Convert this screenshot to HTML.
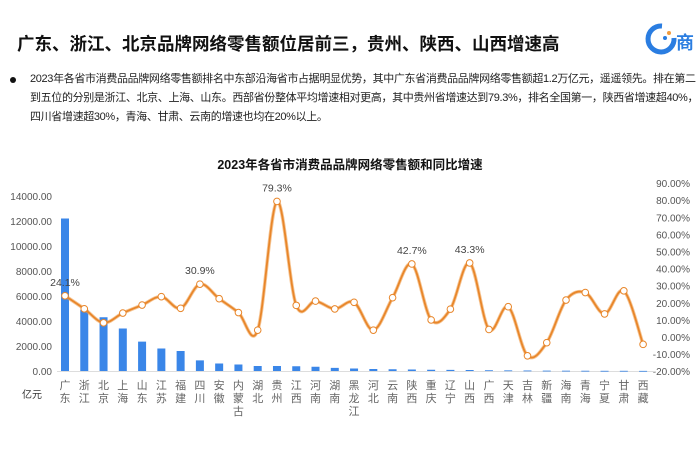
<!DOCTYPE html><html><head><meta charset="utf-8"><style>
body{margin:0;width:700px;height:470px;background:#fff;font-family:"Liberation Sans","Noto Sans CJK SC",sans-serif;overflow:hidden;position:relative}
.h{position:absolute;left:17px;top:31px;font-size:17.5px;font-weight:bold;color:#111}
.p{position:absolute;left:30px;top:70px;width:672px;font-size:11px;line-height:19px;color:#222;letter-spacing:-0.35px}
.dot{position:absolute;left:10px;top:77px;width:6px;height:6px;border-radius:50%;background:#111}
</style></head><body>
<div class="h">广东、浙江、北京品牌网络零售额位居前三，贵州、陕西、山西增速高</div>
<svg style="position:absolute;left:640px;top:18px" width="60" height="45"><path d="M22 8 A13 13 0 1 0 34 20" stroke="#2a7de1" stroke-width="5" fill="none"/><circle cx="25" cy="20" r="2" fill="#2a7de1"/><circle cx="29" cy="15" r="2" fill="#f39c3c"/><text x="36" y="31" font-size="18" font-weight="bold" fill="#2a7de1" font-family="Noto Sans CJK SC">商</text></svg>
<div class="dot"></div>
<div class="p">2023年各省市消费品品牌网络零售额排名中东部沿海省市占据明显优势，其中广东省消费品品牌网络零售额超1.2万亿元，遥遥领先。排在第二<br>到五位的分别是浙江、北京、上海、山东。西部省份整体平均增速相对更高，其中贵州省增速达到79.3%，排名全国第一，陕西省增速超40%，<br>四川省增速超30%，青海、甘肃、云南的增速也均在20%以上。</div>
<svg id="c" style="position:absolute;left:0;top:0" width="700" height="470" font-family="Liberation Sans, Noto Sans CJK SC, sans-serif"></svg>
<script>
var s=document.getElementById('c'),h='';
var names=["广东","浙江","北京","上海","山东","江苏","福建","四川","安徽","内蒙古","湖北","贵州","江西","河南","湖南","黑龙江","河北","云南","陕西","重庆","辽宁","山西","广西","天津","吉林","新疆","海南","青海","宁夏","甘肃","西藏"];
var bars=[12200,4900,4300,3400,2350,1800,1600,850,600,520,400,400,380,340,250,200,160,140,120,100,90,80,60,50,40,30,25,20,15,15,10];
var g=[24.1,16.5,8.3,14,18.7,23.6,16.8,30.9,22.4,14.3,4,79.3,18.5,21,16.4,20.3,4,23,42.7,10,16.3,43.3,4.4,17.7,-11,-3.3,21.6,26,13.5,27,-4.3];
function X(i){return 65+i*19.27}
function YL(v){return 371-v*0.0125}
function YR(v){return 337-v*1.71}
h+='<text x="350" y="169" text-anchor="middle" font-size="12.5" font-weight="bold" fill="#111">2023年各省市消费品品牌网络零售额和同比增速</text>';
for(var k=0;k<=7;k++){h+='<text x="52" y="'+(YL(k*2000)+4)+'" text-anchor="end" font-size="10" fill="#555">'+(k==0?'0':k*2000)+'.00</text>';}
for(var k=-2;k<=9;k++){h+='<text x="690" y="'+(YR(k*10)+4)+'" text-anchor="end" font-size="10" fill="#555">'+(k*10)+'.00%</text>';}
h+='<line x1="57" y1="371.5" x2="655" y2="371.5" stroke="#ddd"/>';
h+='<text x="22" y="398" font-size="10" fill="#333">亿元</text>';
for(var i=0;i<31;i++){var x=X(i),y=YL(bars[i]);h+='<rect x="'+(x-4)+'" y="'+y+'" width="8" height="'+Math.max(371-y,0.8)+'" fill="#3a86e8"/>';
 for(var j=0;j<names[i].length;j++)h+='<text x="'+x+'" y="'+(389+j*13)+'" text-anchor="middle" font-size="11" fill="#666">'+names[i][j]+'</text>';}
var P=g.map(function(v,i){return[X(i),YR(v)]});
var d='M'+P[0][0]+' '+P[0][1];
for(var i=0;i<P.length-1;i++){var p0=P[Math.max(i-1,0)],p1=P[i],p2=P[i+1],p3=P[Math.min(i+2,P.length-1)];
d+=' C'+(p1[0]+(p2[0]-p0[0])/6)+' '+(p1[1]+(p2[1]-p0[1])/6)+' '+(p2[0]-(p3[0]-p1[0])/6)+' '+(p2[1]-(p3[1]-p1[1])/6)+' '+p2[0]+' '+p2[1];}
h+='<path d="'+d+'" fill="none" stroke="#f0a050" stroke-width="3.5" opacity="0.6"/><path d="'+d+'" fill="none" stroke="#e8862a" stroke-width="1.8"/>';
P.forEach(function(p){h+='<circle cx="'+p[0]+'" cy="'+p[1]+'" r="3.3" fill="#fff" stroke="#e8862a" stroke-width="1"/>'});
[[0,'24.1%'],[7,'30.9%'],[11,'79.3%'],[18,'42.7%'],[21,'43.3%']].forEach(function(a){h+='<text x="'+(P[a[0]][0])+'" y="'+(P[a[0]][1]-10)+'" text-anchor="middle" font-size="10.5" fill="#444">'+a[1]+'</text>'});
s.innerHTML=h;
</script>
</body></html>
